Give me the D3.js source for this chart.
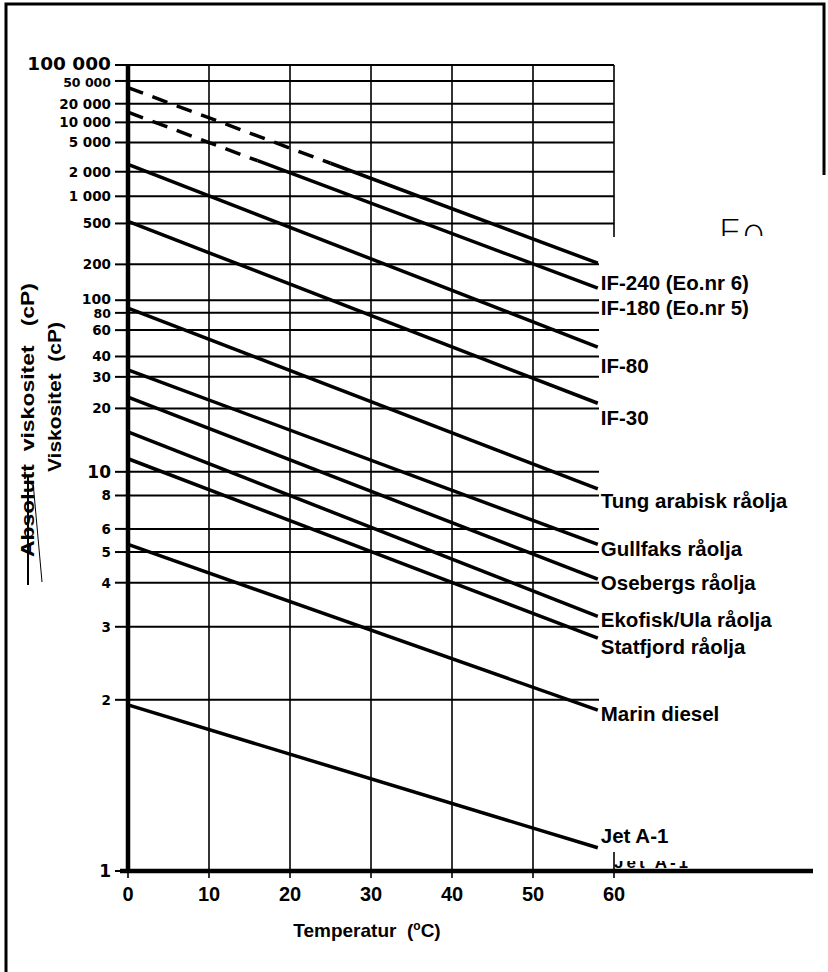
<!DOCTYPE html>
<html>
<head>
<meta charset="utf-8">
<script src="https://cdn.jsdelivr.net/npm/d3@7"></script>
<style>
  html, body { margin: 0; padding: 0; background: #fff; }
  svg { display: block; }
</style>
</head>
<body>
<script>
// ---------------- DATA ----------------
const seriesNames = ["IF-240 (Eo.nr 6)", "IF-180 (Eo.nr 5)", "IF-80", "IF-30",
  "Tung arabisk råolja", "Gullfaks råolja", "Osebergs råolja", "Ekofisk/Ula råolja",
  "Statfjord råolja", "Marin diesel", "Jet A-1"];
const lineTemps = [0, 58];                 // °C, start and end of each line
const viscAt0  = [38000, 14500, 2500, 525, 87, 33, 23, 15.2, 11.4, 5.3, 1.95];
const viscAt58 = [205, 125, 46, 21.3, 8.5, 5.3, 4.1, 3.2, 2.8, 1.9, 1.08];
const dashedUntil = [25, 16, 0, 0, 0, 0, 0, 0, 0, 0, 0]; // °C, dashed part of line
const xTicks = [0, 10, 20, 30, 40, 50, 60];
const yTicks = [1, 2, 3, 4, 5, 6, 8, 10, 20, 30, 40, 60, 80, 100, 200, 500,
  1000, 2000, 5000, 10000, 20000, 50000, 100000];
const yTickLabels = ["1", "2", "3", "4", "5", "6", "8", "10", "20", "30", "40", "60", "80",
  "100", "200", "500", "1 000", "2 000", "5 000", "10 000", "20 000", "50 000", "100 000"];

// ---------------- LAYOUT ----------------
const W = 828, H = 972;
const labelDy = [27, 27, 26, 22, 19, 12, 11, 11, 16, 11, -5];
const yLabelSize = {"1": 17, "10": 17, "100": 14, "80": 12.5, "50 000": 12.5, "100 000": 18.5};
const yLabelShift = {"100 000": -2, "50 000": 1.5, "100": -1.5, "80": 1};

const svg = d3.select("body").append("svg").attr("width", W).attr("height", H);
svg.append("rect").attr("width", W).attr("height", H).attr("fill", "#fff");

// x: linear temperature; y: ASTM-type log-log viscosity scale
const x = d3.scaleLinear().domain([0, 60]).range([128, 614]);
const T = v => Math.log10(Math.log10(v + 0.65));
const yLin = d3.scaleLinear().domain([T(1), T(100000)]).range([871, 65]);
const y = v => yLin(T(v));

// outer frame (scan border)
svg.append("path").attr("d", `M6,${H} V4 H824 V175`)
  .attr("fill", "none").attr("stroke", "#000").attr("stroke-width", 3);

// grid
const g = svg.append("g");
g.selectAll("line.h").data(yTicks).join("line")
  .attr("x1", x(0)).attr("x2", x(60))
  .attr("y1", d => y(d)).attr("y2", d => y(d))
  .attr("stroke", "#000").attr("stroke-width", 2);
g.selectAll("line.v").data(xTicks.slice(1)).join("line")
  .attr("x1", d => x(d)).attr("x2", d => x(d))
  .attr("y1", y(100000)).attr("y2", y(1))
  .attr("stroke", "#000").attr("stroke-width", 1.6);

// y tick marks and labels
g.selectAll("line.yt").data(yTicks).join("line")
  .attr("x1", 115).attr("x2", x(0))
  .attr("y1", d => y(d)).attr("y2", d => y(d))
  .attr("stroke", "#000").attr("stroke-width", 2);
g.selectAll("text.yl").data(yTicks).join("text")
  .attr("x", 111)
  .attr("y", (d, i) => y(d) + (yLabelShift[yTickLabels[i]] || 0))
  .attr("dy", "0.36em")
  .attr("text-anchor", "end")
  .attr("font-family", "DejaVu Sans")
  .attr("font-weight", "bold")
  .attr("font-size", (d, i) => yLabelSize[yTickLabels[i]] || 13.5)
  .text((d, i) => yTickLabels[i]);

// fluid lines
const lines = svg.append("g");
seriesNames.forEach((name, i) => {
  const x0 = x(lineTemps[0]), x1 = x(lineTemps[1]);
  const y0 = y(viscAt0[i]), y1 = y(viscAt58[i]);
  const f = (dashedUntil[i] - lineTemps[0]) / (lineTemps[1] - lineTemps[0]);
  const xm = x0 + (x1 - x0) * f, ym = y0 + (y1 - y0) * f;
  if (f > 0) {
    lines.append("line").attr("x1", x0).attr("y1", y0).attr("x2", xm).attr("y2", ym)
      .attr("stroke", "#000").attr("stroke-width", 3.5).attr("stroke-dasharray", "16,10");
  }
  lines.append("line").attr("x1", xm).attr("y1", ym).attr("x2", x1).attr("y2", y1)
    .attr("stroke", "#000").attr("stroke-width", 3.5);
});

// axes
svg.append("line").attr("x1", x(0)).attr("x2", x(0)).attr("y1", y(100000)).attr("y2", y(1) + 2)
  .attr("stroke", "#000").attr("stroke-width", 4.5);
svg.append("line").attr("x1", 120).attr("x2", 813).attr("y1", y(1)).attr("y2", y(1))
  .attr("stroke", "#000").attr("stroke-width", 4.5);
svg.selectAll("line.xt").data(xTicks).join("line")
  .attr("x1", d => x(d)).attr("x2", d => x(d))
  .attr("y1", y(1)).attr("y2", y(1) + 7)
  .attr("stroke", "#000").attr("stroke-width", 1.6);
svg.selectAll("text.xl").data(xTicks).join("text")
  .attr("x", d => x(d)).attr("y", 901)
  .attr("text-anchor", "middle")
  .attr("font-family", "Liberation Sans, Arial, sans-serif")
  .attr("font-weight", "bold").attr("font-size", 20)
  .text(d => d);

// handwritten "Eo" fragment (clipped by pasted label area)
const defs = svg.append("defs");
defs.append("clipPath").attr("id", "eoclip")
  .append("rect").attr("x", 700).attr("y", 190).attr("width", 100).attr("height", 46);
svg.append("text").attr("x", 718).attr("y", 246)
  .attr("clip-path", "url(#eoclip)")
  .attr("font-family", "DejaVu Sans").attr("font-weight", 200).attr("font-size", 38)
  .attr("fill", "#000").text("Eo");

// pasted label area (white)
svg.append("rect").attr("x", 599).attr("y", 237).attr("width", W - 599).attr("height", 852 - 237)
  .attr("fill", "#fff");

// ghost of old Jet A-1 label (only its lower part shows)
defs.append("clipPath").attr("id", "ghostclip")
  .append("rect").attr("x", 600).attr("y", 861).attr("width", 120).attr("height", 8);
svg.append("text").attr("x", 614).attr("y", 868)
  .attr("clip-path", "url(#ghostclip)")
  .attr("font-family", "Liberation Sans, Arial, sans-serif").attr("font-weight", "bold")
  .attr("font-size", 17).attr("letter-spacing", 3).text("Jet A-1");

// series labels
svg.selectAll("text.sl").data(seriesNames).join("text")
  .attr("x", x(lineTemps[1]) + 3)
  .attr("y", (d, i) => y(viscAt58[i]) + labelDy[i])
  .attr("font-family", "Liberation Sans, Arial, sans-serif")
  .attr("font-weight", "bold").attr("font-size", 20.5)
  .text(d => d);

// axis titles
const xt = svg.append("text").attr("x", 367).attr("y", 937).attr("text-anchor", "middle")
  .attr("font-family", "Liberation Sans, Arial, sans-serif").attr("font-weight", "bold")
  .attr("font-size", 19);
xt.append("tspan").text("Temperatur\u00a0\u00a0(");
xt.append("tspan").attr("font-size", 12).attr("dy", -7).text("o");
xt.append("tspan").attr("dy", 7).text("C)");

svg.append("text")
  .attr("transform", "translate(61,397) rotate(-90)")
  .attr("text-anchor", "middle")
  .attr("font-family", "Liberation Sans, Arial, sans-serif").attr("font-weight", "bold")
  .attr("font-size", 19).attr("textLength", 150).attr("lengthAdjust", "spacingAndGlyphs")
  .text("Viskositet\u00a0\u00a0(cP)");

svg.append("text")
  .attr("transform", "translate(34,420) rotate(-90)")
  .attr("text-anchor", "middle")
  .attr("font-family", "Liberation Sans, Arial, sans-serif").attr("font-weight", "bold")
  .attr("font-size", 19).attr("textLength", 274).attr("lengthAdjust", "spacingAndGlyphs")
  .text("Absolutt\u00a0\u00a0viskositet\u00a0\u00a0\u00a0(cP)");
// strike-through of "Absolutt"
svg.append("line").attr("x1", 28).attr("x2", 28).attr("y1", 477).attr("y2", 585)
  .attr("stroke", "#000").attr("stroke-width", 2);
svg.append("line").attr("x1", 33).attr("x2", 42).attr("y1", 482).attr("y2", 582)
  .attr("stroke", "#000").attr("stroke-width", 1);
</script>
</body>
</html>
